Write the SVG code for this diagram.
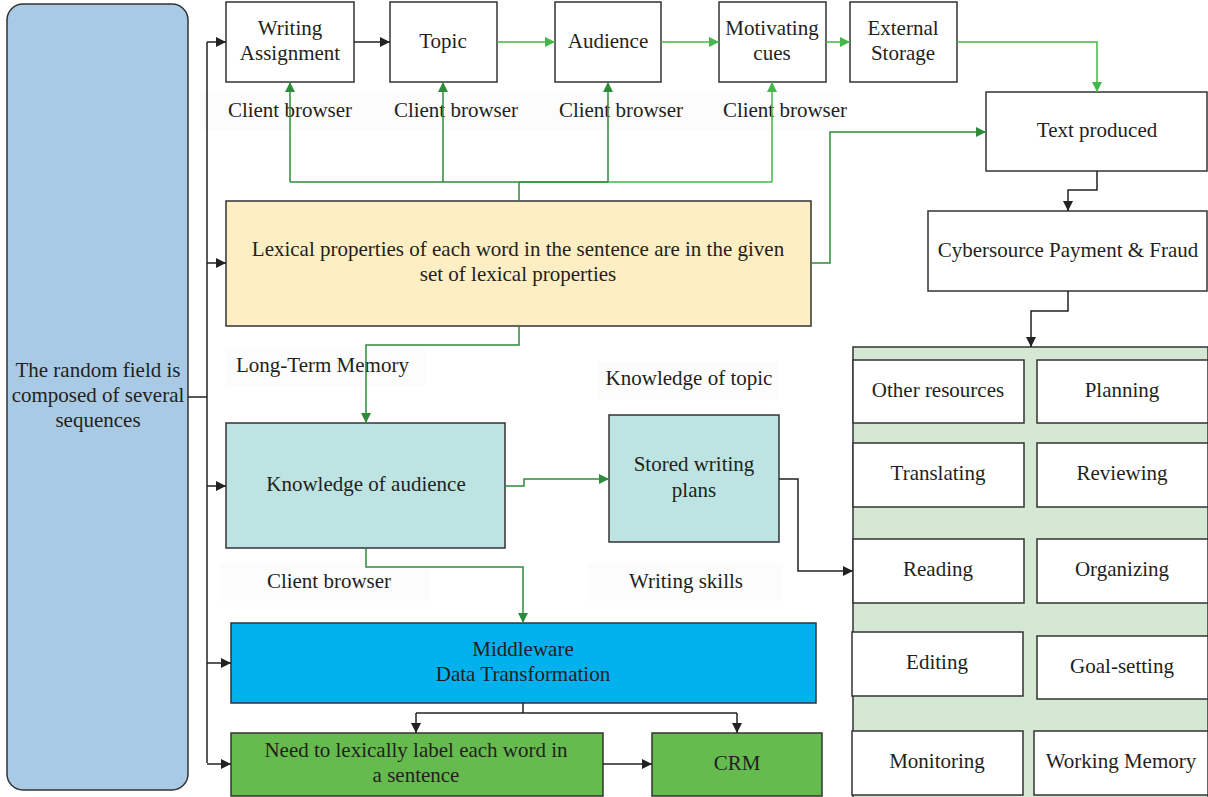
<svg xmlns="http://www.w3.org/2000/svg" width="1208" height="797" viewBox="0 0 1208 797">
<style>
text{font-family:"Liberation Serif","DejaVu Serif",serif;font-size:21px;fill:#231f20;text-anchor:middle}
.box{stroke:#333;stroke-width:1.5}
.w{fill:#fff}
.lbl{fill:#fcfcfc}
.k{fill:none;stroke:#222;stroke-width:1.5}
.gl{fill:none;stroke:#45b649;stroke-width:1.5}
.gd{fill:none;stroke:#2e8b3c;stroke-width:1.5}
</style>
<defs>
<marker id="ak" viewBox="0 0 10 10" refX="10" refY="5" markerWidth="11" markerHeight="10" orient="auto" markerUnits="userSpaceOnUse"><path d="M0,0L10,5L0,10z" fill="#222"/></marker>
<marker id="agl" viewBox="0 0 10 10" refX="10" refY="5" markerWidth="11" markerHeight="10" orient="auto" markerUnits="userSpaceOnUse"><path d="M0,0L10,5L0,10z" fill="#45b649"/></marker>
<marker id="agd" viewBox="0 0 10 10" refX="10" refY="5" markerWidth="11" markerHeight="10" orient="auto" markerUnits="userSpaceOnUse"><path d="M0,0L10,5L0,10z" fill="#2e8b3c"/></marker>
</defs>
<rect width="1208" height="797" fill="#fff"/>
<g id="labels">
<rect class="lbl" x="200" y="92" width="640" height="38"/>
<text x="290" y="117">Client browser</text>
<text x="456" y="117">Client browser</text>
<text x="621" y="117">Client browser</text>
<text x="785" y="117">Client browser</text>
<rect class="lbl" x="225" y="348" width="200" height="38"/>
<text x="236" y="372" style="text-anchor:start">Long-Term Memory</text>
<rect class="lbl" x="598" y="362" width="180" height="38"/>
<text x="689" y="385">Knowledge of topic</text>
<rect class="lbl" x="220" y="563" width="210" height="38"/>
<text x="329" y="588">Client browser</text>
<rect class="lbl" x="588" y="563" width="195" height="38"/>
<text x="686" y="588">Writing skills</text>
</g>
<g id="node-random">
<rect x="7" y="4" width="181" height="786" rx="16" fill="#a9cae4" class="box"/>
<text x="98" y="377">The random field is</text>
<text x="98" y="402">composed of several</text>
<text x="98" y="427">sequences</text>
</g>
<g id="node-writing"><rect class="box w" x="226" y="2" width="128" height="80"/><text x="290" y="35">Writing</text><text x="290" y="60">Assignment</text></g>
<g id="node-topic"><rect class="box w" x="390" y="2" width="107" height="80"/><text x="443" y="48">Topic</text></g>
<g id="node-audience"><rect class="box w" x="555" y="2" width="106" height="80"/><text x="608" y="48">Audience</text></g>
<g id="node-motivating"><rect class="box w" x="719" y="2" width="107" height="80"/><text x="772" y="35">Motivating</text><text x="772" y="60">cues</text></g>
<g id="node-external"><rect class="box w" x="850" y="2" width="107" height="80"/><text x="903" y="35">External</text><text x="903" y="60">Storage</text></g>
<g id="node-text"><rect class="box w" x="986" y="92" width="221" height="79"/><text x="1097" y="137">Text produced</text></g>
<g id="node-cyber"><rect class="box w" x="928" y="211" width="279" height="80"/><text x="1068" y="257">Cybersource Payment &amp; Fraud</text></g>
<g id="node-lexical"><rect class="box" x="226" y="201" width="585" height="125" fill="#fdeec3"/><text x="518" y="256">Lexical properties of each word in the sentence are in the given</text><text x="518" y="281">set of lexical properties</text></g>
<g id="node-kaudience"><rect class="box" x="226" y="423" width="279" height="125" fill="#bde4e2"/><text x="366" y="491">Knowledge of audience</text></g>
<g id="node-stored"><rect class="box" x="609" y="415" width="170" height="127" fill="#bde4e2"/><text x="694" y="471">Stored writing</text><text x="694" y="497">plans</text></g>
<g id="node-middleware"><rect class="box" x="231" y="623" width="585" height="80" fill="#00b1ee"/><text x="523" y="656">Middleware</text><text x="523" y="681">Data Transformation</text></g>
<g id="node-need"><rect class="box" x="231" y="733" width="372" height="63" fill="#66bb4e"/><text x="416" y="757">Need to lexically label each word in</text><text x="416" y="782">a sentence</text></g>
<g id="node-crm"><rect class="box" x="652" y="733" width="170" height="63" fill="#66bb4e"/><text x="737" y="770">CRM</text></g>
<g id="node-panel">
<rect class="box" x="853" y="347" width="355" height="452" fill="#d5e8d4"/>
<g id="node-other"><rect class="box w" x="853" y="360" width="171" height="63"/><text x="938" y="397">Other resources</text></g>
<g id="node-planning"><rect class="box w" x="1037" y="360" width="171" height="63"/><text x="1122" y="397">Planning</text></g>
<g id="node-translating"><rect class="box w" x="853" y="443" width="171" height="64"/><text x="938" y="480">Translating</text></g>
<g id="node-reviewing"><rect class="box w" x="1037" y="443" width="171" height="64"/><text x="1122" y="480">Reviewing</text></g>
<g id="node-reading"><rect class="box w" x="853" y="539" width="171" height="64"/><text x="938" y="576">Reading</text></g>
<g id="node-organizing"><rect class="box w" x="1037" y="539" width="171" height="64"/><text x="1122" y="576">Organizing</text></g>
<g id="node-editing"><rect class="box w" x="852" y="632" width="171" height="64"/><text x="937" y="669">Editing</text></g>
<g id="node-goal"><rect class="box w" x="1037" y="636" width="171" height="63"/><text x="1122" y="673">Goal-setting</text></g>
<g id="node-monitoring"><rect class="box w" x="852" y="731" width="171" height="64"/><text x="937" y="768">Monitoring</text></g>
<g id="node-working"><rect class="box w" x="1034" y="731" width="174" height="64"/><text x="1121" y="768">Working Memory</text></g>
</g>
<g id="connectors">
<path class="k" d="M188,397H207"/>
<path class="k" d="M207,763V42"/>
<path class="k" d="M207,42H226" marker-end="url(#ak)"/>
<path class="k" d="M207,263H226" marker-end="url(#ak)"/>
<path class="k" d="M207,486H226" marker-end="url(#ak)"/>
<path class="k" d="M207,663H231" marker-end="url(#ak)"/>
<path class="k" d="M207,764H231" marker-end="url(#ak)"/>
<path class="k" d="M354,42H390" marker-end="url(#ak)"/>
<path class="gl" d="M497,42H555" marker-end="url(#agl)"/>
<path class="gl" d="M661,42H719" marker-end="url(#agl)"/>
<path class="gl" d="M826,42H850" marker-end="url(#agl)"/>
<path class="gl" d="M957,42H1097V92" marker-end="url(#agl)"/>
<path class="gd" d="M519,201V182"/>
<path class="gd" d="M290,182H519"/>
<path class="gl" d="M519,182H772"/>
<path class="gd" d="M519,182H608"/>
<path class="gd" d="M290,182V82" marker-end="url(#agd)"/>
<path class="gd" d="M443,182V82" marker-end="url(#agd)"/>
<path class="gd" d="M608,182V82" marker-end="url(#agd)"/>
<path class="gl" d="M772,182V82" marker-end="url(#agl)"/>
<path class="gd" d="M811,263H830V132H986" marker-end="url(#agd)"/>
<path class="k" d="M1097,171V190H1068V211" marker-end="url(#ak)"/>
<path class="k" d="M1068,291V311H1031V347" marker-end="url(#ak)"/>
<path class="gd" d="M519,326V345H366V423" marker-end="url(#agd)"/>
<path class="gd" d="M505,486H524V479H609" marker-end="url(#agd)"/>
<path class="gd" d="M366,548V567H523V623" marker-end="url(#agd)"/>
<path class="k" d="M779,479H798V571H853" marker-end="url(#ak)"/>
<path class="k" d="M523,703V713"/>
<path class="k" d="M416,713H737"/>
<path class="k" d="M416,713V733" marker-end="url(#ak)"/>
<path class="k" d="M737,713V733" marker-end="url(#ak)"/>
<path class="k" d="M603,764H652" marker-end="url(#ak)"/>
</g>
</svg>
